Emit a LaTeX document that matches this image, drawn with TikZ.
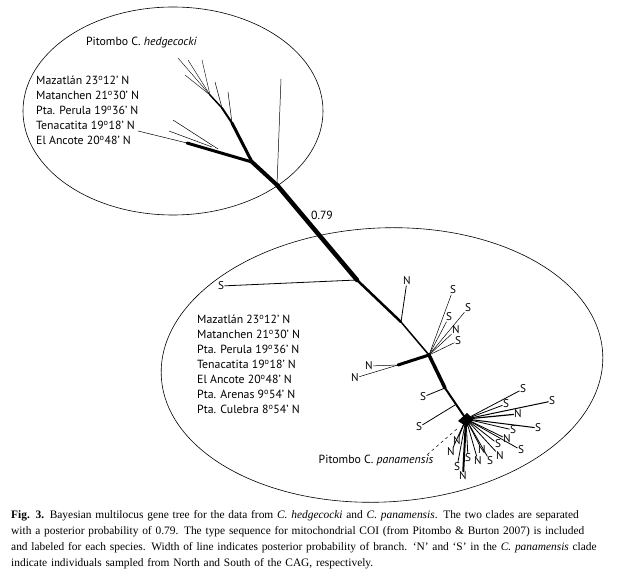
\documentclass[tikz,border=0pt]{standalone}
\usepackage{fontspec}
\setmainfont{Liberation Serif}
\newfontfamily\treefont{PT Sans}
\usetikzlibrary{calc}

\begin{document}
\begin{tikzpicture}[x=1pt, y=-1pt, line cap=round]
	\path [use as bounding box] (0,0) rectangle (619,580);
	\tikzstyle{every node} = [font=\treefont\fontsize{11.8}{15}\selectfont, inner sep=0.8pt]
	\tikzstyle{leaf} = [font=\treefont\fontsize{11.2}{13}\selectfont, inner sep=0.5pt]
	\tikzstyle{twig} = [line width=0.5pt]
	\tikzstyle{sites} = [anchor=north west, align=left, inner sep=0pt]
	% clades
	\draw[line width=0.6pt] (173,111) ellipse [x radius=150pt, y radius=104pt];
	\draw[line width=0.6pt, rotate around={3:(382,365)}] (382,365) ellipse [x radius=221pt, y radius=137pt];
	% hedgecocki
	\coordinate (A) at (277,185);
	\coordinate (B) at (252,162);
	\coordinate (C) at (187,143);
	\coordinate (D) at (232,123);
	\coordinate (E) at (222,108);
	\coordinate (F) at (210,95);
	\coordinate (top) at (281,79);
	\coordinate (tena) at (138,131);
	\draw[twig] (A) -- (top);
	\draw[line width=4pt] (A) -- (B);
	\draw[line width=3pt] (B) -- (C);
	\draw[line width=3pt] (B) -- (D);
	\draw[line width=2pt] (D) -- (E);
	\draw[line width=1.5pt] (E) -- (F);
	\draw[twig] (C) -- (tena);
	\draw[twig] (D) -- (228,92);
	\draw[twig] (E) -- (215,82);
	\coordinate (c1) at (218,149);
	\coordinate (c2) at (212,147);
	\draw[twig] (c1) -- (173,120);
	\draw[twig] (c2) -- (169,131);
	\foreach \x/\y [count=\i] in {178/58, 188/60, 202/60, 185/75} {
		\coordinate (f\i) at (\x,\y);
		\draw[line width=0.4pt] (F) -- (f\i);
	}
	\node[anchor=west] (hedge) at (85,43) {Pitombo C. \textit{hedgecocki}};
	\node[sites] (north) at (36,76) {Mazatl\'an 23\textsuperscript{o}12’ N\\Matanchen 21\textsuperscript{o}30’ N\\Pta. Perula 19\textsuperscript{o}36’ N\\Tenacatita 19\textsuperscript{o}18’ N\\El Ancote 20\textsuperscript{o}48’ N};
	% trunk
	\coordinate (P) at (357,280);
	\coordinate (Q) at (401,322);
	\coordinate (J1) at (429,355);
	\coordinate (K) at (398,365);
	\coordinate (R) at (445,388);
	\coordinate (T) at (455,405);
	\coordinate (J2) at (466,419);
	\draw[line width=4.5pt] (A) -- (P);
	\node (pp) at (322,215) {0.79};
	\draw[line width=2.5pt] (P) -- (Q);
	\draw[line width=1.5pt] (Q) -- (J1);
	\draw[line width=3.5pt] (J1) -- (R);
	\draw[line width=2pt] (R) -- (J2);
	\draw[line width=3pt] (J1) -- (K);
	% panamensis
	\node[leaf] (s1) at (221,286) {S};
	\node[leaf] (n1) at (407,281) {N};
	\node[leaf] (n2) at (369,366) {N};
	\node[leaf] (n3) at (355,378) {N};
	\node[leaf] (s2) at (423,397) {S};
	\node[leaf] (s3) at (419,427) {S};
	\draw[line width=0.8pt] (P) -- (s1);
	\draw[line width=0.8pt] (Q) -- (n1);
	\draw[twig] (K) -- (n2);
	\draw[twig] (K) -- (n3);
	\draw[line width=0.8pt] (R) -- (s2);
	\draw[line width=0.8pt] (T) -- (s3);
	\foreach \x/\y/\t [count=\i] in {453/290/S, 468/308/S, 449/317/S, 456/330/N, 458/341/S} {
		\node[leaf] (a\i) at (\x,\y) {\t};
		\draw[line width=0.5pt] (J1) -- (a\i);
	}
	\fill (458,421) -- (467,413) -- (473,419) -- (467,427) -- cycle;
	\foreach \x/\y/\t/\w [count=\i] in {523/389/S/0.8, 506/404/S/0.8, 552/401/S/1, 518/414/N/1.2, 538/428/S/1,
		513/430/S/0.8, 507/439/N/0.8, 521/450/S/0.8, 498/444/S/0.8, 500/456/N/0.8, 490/461/S/0.8,
		482/450/N/0.8, 478/461/N/0.8, 468/458/S/0.8, 457/441/N/1, 451/452/N/0.8, 457/467/S/0.8, 463/476/N/2} {
		\node[leaf] (b\i) at (\x,\y) {\t};
		\draw[line width=\w pt] (J2) -- (b\i);
	}
	\node[sites] (south) at (197,315) {Mazatl\'an 23\textsuperscript{o}12’ N\\Matanchen 21\textsuperscript{o}30’ N\\Pta. Perula 19\textsuperscript{o}36’ N\\Tenacatita 19\textsuperscript{o}18’ N\\El Ancote 20\textsuperscript{o}48’ N\\Pta. Arenas 9\textsuperscript{o}54’ N\\Pta. Culebra 8\textsuperscript{o}54’ N};
	\node (pan) at (376,460) {Pitombo C. \textit{panamensis}};
	\coordinate (dz) at (458,428);
	\draw[dashed, line width=0.5pt, line cap=butt] ([xshift=-7pt, yshift=-1pt]pan.north east) -- (dz);
	% caption
	\node[anchor=north west, inner sep=0pt, text width=604pt, font=\rmfamily\fontsize{11.4}{16}\selectfont] (cap) at (11,510)
		{\textbf{Fig. 3.} Bayesian multilocus gene tree for the data from \textit{C. hedgecocki} and \textit{C. panamensis}. The two clades are separated\linebreak
		with a posterior probability of 0.79. The type sequence for mitochondrial COI (from Pitombo \& Burton 2007) is included\linebreak
		and labeled for each species. Width of line indicates posterior probability of branch. ‘N’ and ‘S’ in the \textit{C. panamensis} clade\linebreak
		indicate individuals sampled from North and South of the CAG, respectively.};
\end{tikzpicture}
\end{document}
